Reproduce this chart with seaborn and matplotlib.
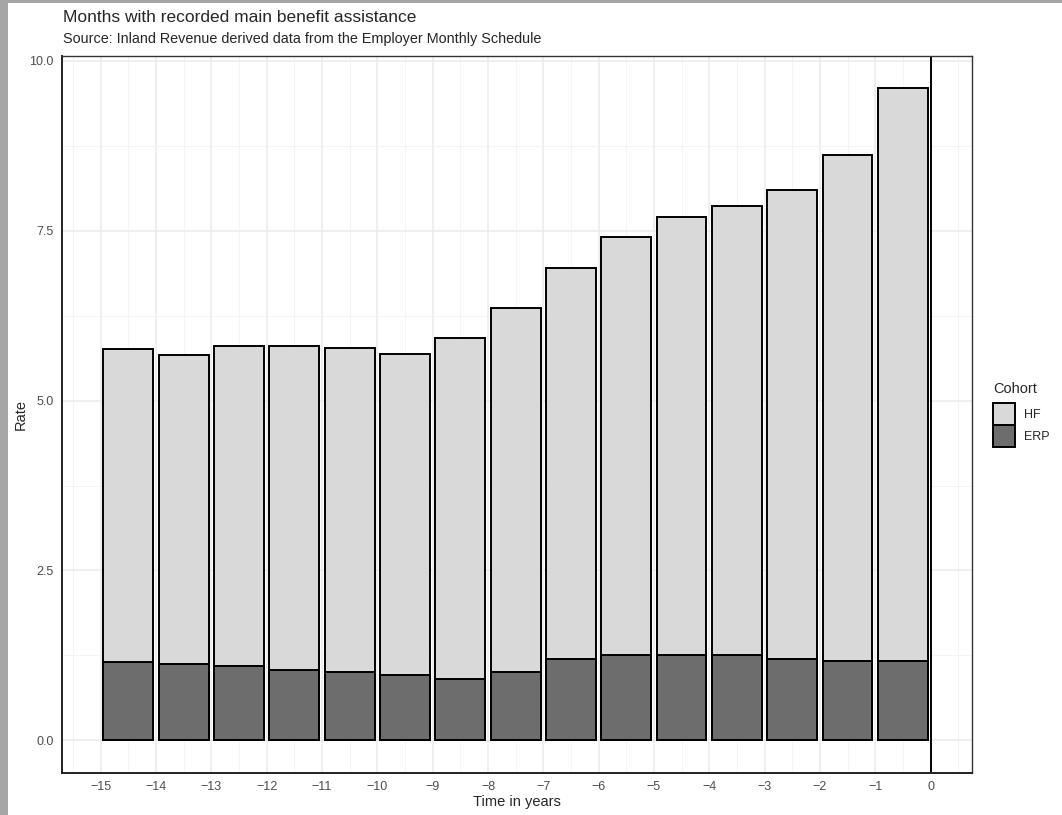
import numpy as np
import pandas as pd
import matplotlib.pyplot as plt
import seaborn as sns
from matplotlib.patches import Rectangle

# midpoint of each yearly period before the event
time_mid = [-14.5, -13.5, -12.5, -11.5, -10.5, -9.5, -8.5, -7.5,
            -6.5, -5.5, -4.5, -3.5, -2.5, -1.5, -0.5]
hf_rate = [5.76, 5.67, 5.80, 5.80, 5.77, 5.69, 5.92, 6.36,
           6.95, 7.40, 7.70, 7.86, 8.10, 8.61, 9.60]
erp_rate = [1.15, 1.13, 1.10, 1.04, 1.00, 0.96, 0.91, 1.01,
            1.20, 1.26, 1.26, 1.25, 1.20, 1.17, 1.17]
cohorts = ['HF', 'ERP']
x_ticks = list(range(-15, 1))
y_ticks = [0.0, 2.5, 5.0, 7.5, 10.0]

df = pd.DataFrame({
    'time': time_mid * 2,
    'rate': hf_rate + erp_rate,
    'Cohort': ['HF'] * len(hf_rate) + ['ERP'] * len(erp_rate),
})

sns.set_style("white")
plt.rcParams['font.family'] = ['Liberation Sans', 'DejaVu Sans']

W, H = 1062, 815
fig = plt.figure(figsize=(W / 100, H / 100), dpi=100)

# grey frame of the screenshot
fig.patches.append(Rectangle((0, 0), 1, 1, transform=fig.transFigure,
                             facecolor='#a6a6a6', edgecolor='none', zorder=-10))
fig.patches.append(Rectangle((8 / W, 0), 1, 1 - 3 / H, transform=fig.transFigure,
                             facecolor='white', edgecolor='none', zorder=-9))

left, right, top, bottom = 62, 972, 56, 773
ax = fig.add_axes([left / W, 1 - bottom / H, (right - left) / W, (bottom - top) / H])
ax.set_facecolor('white')

sns.barplot(data=df, x='time', y='rate', hue='Cohort', hue_order=cohorts,
            palette={'HF': '#d9d9d9', 'ERP': '#6d6d6d'}, native_scale=True,
            dodge=False, width=0.9, errorbar=None, saturation=1,
            edgecolor='black', linewidth=1.4, ax=ax)

ax.axvline(0, color='black', linewidth=1.4)

ax.set_xlim(-15.70, 0.75)
ax.set_ylim(-0.48, 10.07)
ax.set_xticks(x_ticks)
ax.set_xticklabels([f'{t}'.replace('-', '\u2212') for t in x_ticks])
ax.set_xticks(np.arange(-15.5, 1.0, 1.0), minor=True)
ax.set_yticks(y_ticks)
ax.set_yticklabels([f'{v:.1f}' for v in y_ticks])
ax.set_yticks([1.25, 3.75, 6.25, 8.75], minor=True)

ax.set_axisbelow(True)
ax.grid(which='major', color='#ebebeb', linewidth=1.1)
ax.grid(which='minor', color='#f2f2f2', linewidth=0.6)
ax.tick_params(which='major', length=4, width=0.9, color='#333333',
               labelsize=9, labelcolor='#4d4d4d', pad=2)
ax.tick_params(which='minor', length=0)

for side in ['left', 'bottom']:
    ax.spines[side].set_color('#222222')
    ax.spines[side].set_linewidth(1.4)
for side in ['right', 'top']:
    ax.spines[side].set_color('#333333')
    ax.spines[side].set_linewidth(1.0)

ax.set_xlabel('Time in years', fontsize=10.5)
ax.set_ylabel('Rate', fontsize=10.5)
ax.xaxis.set_label_coords(0.5, -0.030)
ax.yaxis.set_label_coords(-0.038, 0.5)

handles, labels = ax.get_legend_handles_labels()
leg = ax.legend(handles, labels, title='Cohort', loc='upper left',
                bbox_to_anchor=(993 / W, 1 - 382 / H), bbox_transform=fig.transFigure,
                frameon=False, fontsize=9, title_fontsize=10.5, borderpad=0,
                borderaxespad=0, handlelength=1.76, handleheight=2.33,
                labelspacing=0.0, handletextpad=0.7, alignment='left')
leg._legend_box.sep = 5  # gap between title and keys
for p in leg.get_patches():
    p.set_edgecolor('black')
    p.set_linewidth(1.4)

fig.text(63 / W, 1 - 22 / H, 'Months with recorded main benefit assistance',
         fontsize=12.5, va='baseline', ha='left')
fig.text(63 / W, 1 - 43 / H, 'Source: Inland Revenue derived data from the Employer Monthly Schedule',
         fontsize=10.4, va='baseline', ha='left')

fig.savefig('out.png', dpi=100)
